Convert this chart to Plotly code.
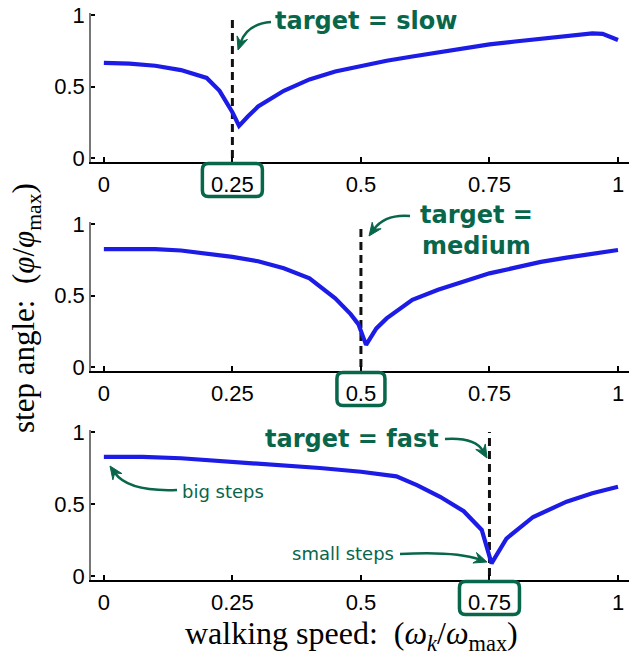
import plotly.graph_objects as go
import math

W, H = 630, 656

# ---------------- data ----------------
x_slow = [0, 0.05, 0.1, 0.15, 0.2, 0.225, 0.25, 0.263, 0.28, 0.3, 0.35, 0.4, 0.45, 0.5,
          0.55, 0.6, 0.65, 0.7, 0.75, 0.8, 0.85, 0.9, 0.95, 0.97, 1.0]
y_slow = [0.665, 0.66, 0.645, 0.615, 0.56, 0.47, 0.32, 0.225, 0.29, 0.36, 0.47, 0.55, 0.605, 0.645,
          0.68, 0.71, 0.74, 0.77, 0.795, 0.815, 0.835, 0.853, 0.872, 0.868, 0.825]

x_med = [0, 0.05, 0.1, 0.15, 0.2, 0.25, 0.3, 0.35, 0.4, 0.45, 0.48, 0.495, 0.51, 0.53, 0.55,
         0.6, 0.65, 0.7, 0.75, 0.8, 0.85, 0.9, 0.95, 1.0]
y_med = [0.825, 0.825, 0.825, 0.815, 0.795, 0.77, 0.74, 0.69, 0.62, 0.48, 0.37, 0.30, 0.155, 0.27, 0.34,
         0.47, 0.54, 0.60, 0.655, 0.695, 0.735, 0.765, 0.795, 0.818]

x_fast = [0, 0.075, 0.15, 0.25, 0.336, 0.42, 0.5, 0.569, 0.61, 0.654, 0.7, 0.735, 0.754, 0.783,
          0.835, 0.9, 0.95, 1.0]
y_fast = [0.828, 0.828, 0.818, 0.795, 0.776, 0.75, 0.724, 0.692, 0.63, 0.55, 0.45, 0.32, 0.088, 0.26,
          0.41, 0.516, 0.575, 0.62]

targets = [0.25, 0.5, 0.75]
target_labels = ["target = slow", "target =<br>medium", "target = fast"]
tick_vals = [0, 0.25, 0.5, 0.75, 1]
tick_text = ["0", "0.25", "0.5", "0.75", "1"]
ytick_vals = [0, 0.5, 1]
ytick_text = ["0", "0.5", "1"]

BLUE = "#1c1ce6"
GREEN = "#08664a"
SANS = "Liberation Sans, Arial, sans-serif"
SERIF = "Liberation Serif, Times New Roman, serif"

def PX(x):
    return x / W

def PY(y):
    return 1 - y / H

# panel geometry (pixels)
x_left, x_right = 91, 629
panels = [  # (bottom px, top px)
    (161.6, 13.3),
    (370.6, 222.3),
    (579.6, 430.3),
]
xr = [-0.025, 1.0214]
yr = [-0.025, 1.012]

fig = go.Figure()
series = [(x_slow, y_slow), (x_med, y_med), (x_fast, y_fast)]
layout = dict(width=W, height=H, margin=dict(l=0, r=0, t=0, b=0, autoexpand=False),
              paper_bgcolor="white", plot_bgcolor="white", showlegend=False)
shapes = []
annotations = []

for i, ((xs, ys), (pb, pt)) in enumerate(zip(series, panels)):
    k = "" if i == 0 else str(i + 1)
    xa, ya = "x" + k, "y" + k
    # dashed target line
    fig.add_trace(go.Scatter(x=[targets[i], targets[i]], y=[0, 1], mode="lines",
                             line=dict(color="#111111", width=3, dash="8px,5px"),
                             xaxis=xa, yaxis=ya, hoverinfo="skip"))
    fig.add_trace(go.Scatter(x=xs, y=ys, mode="lines",
                             line=dict(color=BLUE, width=4.2),
                             xaxis=xa, yaxis=ya))
    layout["xaxis" + k] = dict(domain=[PX(x_left), PX(x_right)], range=xr, anchor=ya,
                               automargin=False,
                               tickvals=tick_vals, ticktext=tick_text, ticks="inside",
                               ticklen=5, tickwidth=1.5, tickcolor="black",
                               showline=True, linecolor="black", linewidth=1.5,
                               showgrid=False, zeroline=False, ticklabelstandoff=2,
                               tickfont=dict(family=SANS, size=22, color="black"))
    layout["yaxis" + k] = dict(domain=[PY(pb), PY(pt)], range=yr, anchor=xa,
                               automargin=False,
                               tickvals=ytick_vals, ticktext=ytick_text, ticks="inside",
                               ticklen=4, tickwidth=1.5, tickcolor="black",
                               showline=True, linecolor="#777777", linewidth=1.5,
                               showgrid=False, zeroline=False,
                               tickfont=dict(family=SANS, size=22, color="black"))
    # rounded box around target tick label
    txt = tick_text[tick_vals.index(targets[i])]
    half_w = 30 if len(txt) == 4 else 24
    top_px, bot_px = pb + 2, pb + 35
    r = 6
    yt, yb = PY(top_px), PY(bot_px)
    ry = r / H
    path = (f"M {-half_w + r},{yt} L {half_w - r},{yt} Q {half_w},{yt} {half_w},{yt - ry} "
            f"L {half_w},{yb + ry} Q {half_w},{yb} {half_w - r},{yb} "
            f"L {-half_w + r},{yb} Q {-half_w},{yb} {-half_w},{yb + ry} "
            f"L {-half_w},{yt - ry} Q {-half_w},{yt} {-half_w + r},{yt} Z")
    shapes.append(dict(type="path", xref=xa, yref="paper", xsizemode="pixel",
                       xanchor=targets[i], path=path,
                       line=dict(color=GREEN, width=3.5), fillcolor="rgba(0,0,0,0)"))

# curved arrows: (start, control, end) in pixels
arrows = [
    ((271, 22), (247, 24), (238, 50)),
    ((410, 216), (385, 214), (369, 236)),
    ((445, 439), (475, 437), (487, 458)),
    ((177, 490), (128, 492), (110, 466)),
    ((400, 554), (455, 551), (487, 562)),
]
L, HW = 13, 5.5
for (s, c, e) in arrows:
    dx, dy = c[0] - e[0], c[1] - e[1]
    n = math.hypot(dx, dy)
    ux, uy = dx / n, dy / n
    px_, py_ = -uy, ux
    e2 = (e[0] + ux * 8, e[1] + uy * 8)
    shapes.append(dict(type="path", xref="paper", yref="paper",
                       path=f"M {PX(s[0])},{PY(s[1])} Q {PX(c[0])},{PY(c[1])} {PX(e2[0])},{PY(e2[1])}",
                       line=dict(color=GREEN, width=2.5)))
    b1 = (e[0] + ux * L + px_ * HW, e[1] + uy * L + py_ * HW)
    b2 = (e[0] + ux * L - px_ * HW, e[1] + uy * L - py_ * HW)
    nt = (e[0] + ux * L * 0.65, e[1] + uy * L * 0.65)
    shapes.append(dict(type="path", xref="paper", yref="paper",
                       path=(f"M {PX(e[0])},{PY(e[1])} L {PX(b1[0])},{PY(b1[1])} "
                             f"L {PX(nt[0])},{PY(nt[1])} L {PX(b2[0])},{PY(b2[1])} Z"),
                       line=dict(color=GREEN, width=1), fillcolor=GREEN))

bold = dict(family="DejaVu Sans", size=24, color=GREEN)
small = dict(family="DejaVu Sans", size=18, color=GREEN)
annotations += [
    dict(x=PX(366), y=PY(21), xref="paper", yref="paper", text="<b>" + target_labels[0] + "</b>",
         showarrow=False, font=bold, xanchor="center", yanchor="middle"),
    dict(x=PX(476), y=PY(230), xref="paper", yref="paper", text="<b>" + target_labels[1] + "</b>",
         showarrow=False, font=bold, xanchor="center", yanchor="middle", align="center"),
    dict(x=PX(352), y=PY(439), xref="paper", yref="paper", text="<b>" + target_labels[2] + "</b>",
         showarrow=False, font=bold, xanchor="center", yanchor="middle"),
    dict(x=PX(180), y=PY(491), xref="paper", yref="paper", text="big steps",
         showarrow=False, font=small, xanchor="left", yanchor="middle"),
    dict(x=PX(396), y=PY(553), xref="paper", yref="paper", text="small steps",
         showarrow=False, font=small, xanchor="right", yanchor="middle"),
    dict(x=PX(351), y=PY(635), xref="paper", yref="paper",
         text="walking speed:  (<i>ω<sub>k</sub></i>/<i>ω</i><sub>max</sub>)",
         showarrow=False, font=dict(family=SERIF, size=32, color="black"),
         xanchor="center", yanchor="middle"),
    dict(x=PX(26), y=PY(308), xref="paper", yref="paper",
         text="step angle:  (<i>φ</i>/<i>φ</i><sub>max</sub>)", textangle=-90,
         showarrow=False, font=dict(family=SERIF, size=31, color="black"),
         xanchor="center", yanchor="middle"),
]

layout["shapes"] = shapes
layout["annotations"] = annotations
fig.update_layout(**layout)
fig.write_html("out.html", config={"displayModeBar": False},
               post_script="document.body.style.margin='0';document.body.style.padding='0';")
